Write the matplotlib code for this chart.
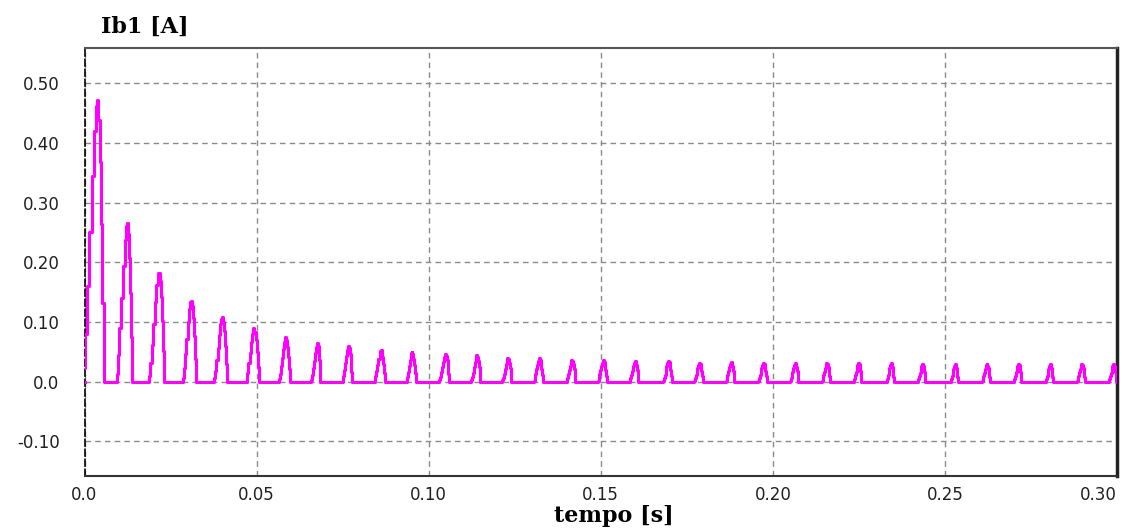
import numpy as np
import matplotlib.pyplot as plt

# peak time [s] and peak current [A] of each rectified pulse
peak_t = [0.00354, 0.01226, 0.02144, 0.03086, 0.03986, 0.04905, 0.05840, 0.06764,
          0.07665, 0.08606, 0.09507, 0.10475, 0.11396, 0.12296, 0.13214, 0.14156,
          0.15074, 0.15995, 0.16963, 0.17863, 0.18784, 0.19723, 0.20644, 0.21565,
          0.22483, 0.23433, 0.24343, 0.25293, 0.26214, 0.27132, 0.28053, 0.28974,
          0.29892]
peak_i = [0.472, 0.266, 0.182, 0.136, 0.108, 0.090, 0.075, 0.065, 0.060, 0.053,
          0.049, 0.046, 0.045, 0.040, 0.039, 0.037, 0.036, 0.035, 0.035, 0.032,
          0.033, 0.032, 0.032, 0.032, 0.031, 0.031, 0.029, 0.030, 0.029, 0.030,
          0.029, 0.030, 0.029]
# rise / fall duration of each pulse [ms]
rise_ms = [3.9, 2.9, 2.6, 2.3, 2.1, 1.95, 1.8, 1.8, 1.6, 1.7, 1.5, 1.7, 1.6, 1.6,
           1.5, 1.5, 1.5, 1.5, 1.4, 1.4, 1.4, 1.4, 1.35, 1.35, 1.3, 1.3, 1.3, 1.3,
           1.25, 1.25, 1.25, 1.25, 1.25]
fall_ms = [2.1, 1.45, 1.8, 1.5, 1.45, 1.6, 1.2, 0.9, 1.15, 1.25, 1.15, 1.25, 1.1,
           1.1, 1.05, 1.05, 1.0, 1.0, 1.0, 1.0, 0.95, 0.95, 0.95, 0.9, 0.9, 0.9,
           0.9, 0.9, 0.9, 0.9, 0.9, 0.9, 0.9]

# staircase shape of one pulse (fraction of rise/fall time, fraction of peak)
rise_frac = [0.0, 0.1, 0.25, 0.45, 0.62, 0.8, 0.92, 1.0]
rise_lvl = [0.05, 0.17, 0.34, 0.53, 0.73, 0.89, 0.98, 1.0]
fall_frac = [0.2, 0.4, 0.6, 0.8, 1.0]
fall_lvl = [0.93, 0.78, 0.56, 0.28, 0.0]

x_ticks = [0.0, 0.05, 0.10, 0.15, 0.20, 0.25, 0.30]
x_labels = ["0.0", "0.05", "0.10", "0.15", "0.20", "0.25", "0.30"]
y_ticks = [0.5, 0.4, 0.3, 0.2, 0.1, 0.0, -0.1]
y_labels = ["0.50", "0.40", "0.30", "0.20", "0.10", "0.0", "-0.10"]

t = [0.0]
ib = [0.0]
for pt, pi, rw, fw in zip(peak_t, peak_i, rise_ms, fall_ms):
    rw = rw / 1000.0
    fw = fw / 1000.0
    for f, l in zip(rise_frac, rise_lvl):
        t.append(pt - rw * (1 - f))
        ib.append(pi * l)
    for f, l in zip(fall_frac, fall_lvl):
        t.append(pt + fw * f)
        ib.append(pi * l)
t.append(0.31)
ib.append(0.0)

W, H = 1122, 532
fig = plt.figure(figsize=(W / 100, H / 100), dpi=100)
ax = fig.add_axes([84.5 / W, (H - 476) / H, (1117 - 84.5) / W, (476 - 48) / H])

ax.plot(t, ib, color="#ff00ff", linewidth=2.2, drawstyle="steps-post", zorder=3)

ax.set_xlim(0, 0.30)
ax.set_ylim(-0.158, 0.559)
ax.set_xticks(x_ticks)
ax.set_xticklabels(x_labels)
ax.set_yticks(y_ticks)
ax.set_yticklabels(y_labels)
ax.get_xticklabels()[-1].set_horizontalalignment("right")
ax.tick_params(axis="both", length=0, labelsize=12, labelcolor="#202020")
ax.tick_params(axis="x", pad=7)
ax.tick_params(axis="y", pad=18)

ax.grid(True, color="#8a8a8a", linestyle=(0, (4, 3)), linewidth=1.0)

ax.spines["left"].set_color("#000000")
ax.spines["left"].set_linestyle((0, (4, 2)))
ax.spines["left"].set_linewidth(1.2)
ax.spines["top"].set_color("#555555")
ax.spines["top"].set_linewidth(1.5)
ax.spines["right"].set_color("#222222")
ax.spines["right"].set_linewidth(2.5)
ax.spines["bottom"].set_color("#333333")
ax.spines["bottom"].set_linewidth(1.5)

fig.text(145 / W, 1 - 27 / H, "Ib1 [A]", ha="center", va="center",
         family="DejaVu Serif", fontweight="bold", fontsize=16)
fig.text(614 / W, 1 - 516 / H, "tempo [s]", ha="center", va="center",
         family="DejaVu Serif", fontweight="bold", fontsize=16)

fig.savefig("out.png", dpi=100)
